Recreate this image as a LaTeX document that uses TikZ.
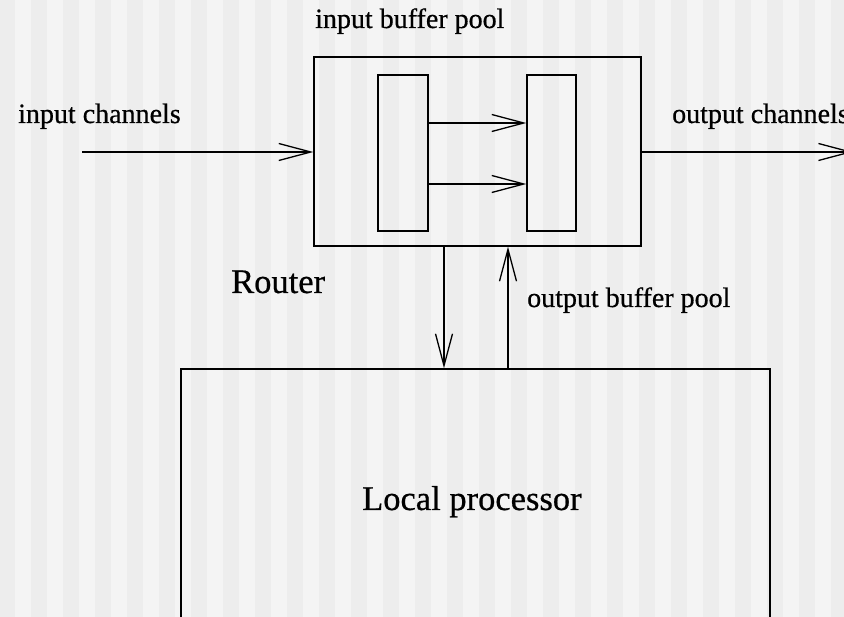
\documentclass[tikz,border=0pt]{standalone}
\usepackage{fontspec}
\setmainfont{Liberation Serif}[FakeBold=0.6]
\usepackage{tikz}
\usetikzlibrary{arrows.meta, positioning}
\definecolor{stripeA}{HTML}{EDEDED}
\definecolor{stripeB}{HTML}{F4F4F4}
\tikzset{
    blk/.style={draw=black, line width=1.4pt, inner sep=0pt},
    arr/.style={line width=1.3pt, -{Straight Barb[length=32pt, width=17pt, line width=1.3pt]}},
    lbl/.style={font=\fontsize{28}{30}\selectfont, inner sep=0pt, anchor=base west},
    big/.style={font=\fontsize{34.5}{36}\selectfont, inner sep=0pt, anchor=base west}
}
\begin{document}
\begin{tikzpicture}[x=1pt, y=-1pt]
        % Fondo
        \useasboundingbox (0,0) rectangle (844,617);
        \fill[stripeB] (0,0) rectangle (844,617);
        \foreach \s in {-1,31,...,843}
            \fill[stripeA] (\s,0) rectangle (\s+16,617);

        % Cajas
        \node[blk, minimum width=327pt, minimum height=189pt] (router) at (477.5,151.5) {};
        \node[blk, minimum width=50pt, minimum height=156pt] (bufin) at (403,153) {};
        \node[blk, minimum width=49pt, minimum height=156pt] (bufout) at (551.5,153) {};
        \node[blk, minimum width=589pt, minimum height=262pt] (proc) at (475.5,500) {};

        % Puntos libres
        \coordinate (inl) at (82,152);
        \coordinate (outr) at (853,152);
        \coordinate (dn) at (444,300);
        \coordinate (up) at (508,300);

        % Flechas
        \draw[arr] (inl) -- (router.west |- inl);
        \draw[arr] (router.east |- outr) -- (outr);
        \draw[arr] ([yshift=30pt]bufin.east) -- ([yshift=30pt]bufout.west);
        \draw[arr] ([yshift=-31pt]bufin.east) -- ([yshift=-31pt]bufout.west);
        \draw[arr] (router.south -| dn) -- (proc.north -| dn);
        \draw[arr] (proc.north -| up) -- (router.south -| up);

        % Textos
        \node[lbl] (tin) at (315,28) {input buffer pool};
        \node[lbl] (tinc) at (18,123) {input channels};
        \node[lbl] (toutc) at (672,123) {output channels};
        \node[lbl] (tout) at (527,307) {output buffer pool};
        \node[big] (trouter) at (231,293) {Router};
        \node[big] (tproc) at (362,510) {Local processor};
    \end{tikzpicture}
\end{document}
